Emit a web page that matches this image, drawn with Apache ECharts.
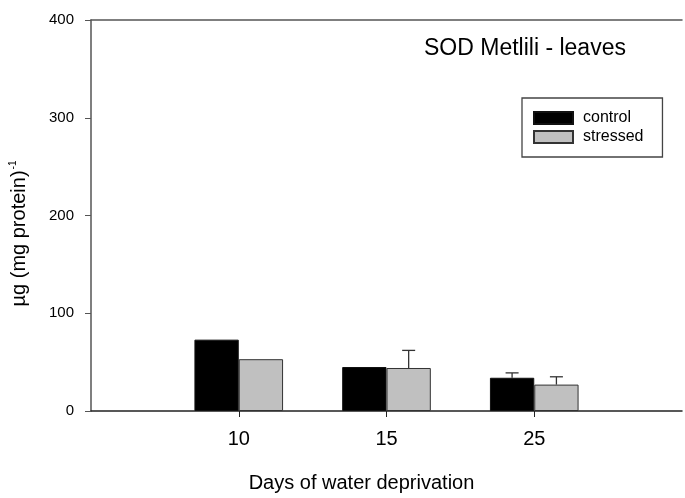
<!DOCTYPE html>
<html>
<head>
<meta charset="utf-8">
<script src="https://cdn.jsdelivr.net/npm/echarts@6/dist/echarts.min.js"></script>
<style>
html,body{margin:0;padding:0;background:#fff;}
#c{width:685px;height:498px;}
</style>
</head>
<body>
<div id="c"></div>
<script>
const categories = ['', '10', '15', '25', ''];
const controlValues = [null, 73, 45, 34, null];
const stressedValues = [null, 53, 44, 27, null];
const controlErrors = [null, null, null, 5, null];
const stressedErrors = [null, null, 18, 8, null];
const yTicks = [0, 100, 200, 300, 400];

const FONT = '"Liberation Sans", Arial, sans-serif';
const chart = echarts.init(document.getElementById('c'));

function errorSeries(name, values, errors, side) {
  const data = values.map((v, i) => [i, v, errors[i]]);
  return {
    type: 'custom',
    name: name + ' err',
    silent: true,
    z: 1,
    data: data,
    renderItem: function (params, api) {
      const i = api.value(0), v = api.value(1), e = api.value(2);
      if (!(e > 0) || v == null || isNaN(v)) return;
      const band = api.size([1, 0])[0];
      const off = side * band * 0.15;
      const p0 = api.coord([i, v]);
      const p1 = api.coord([i, v + e]);
      const x = p0[0] + off;
      const half = 6.5;
      const st = { stroke: '#333', lineWidth: 1.3 };
      return {
        type: 'group',
        children: [
          { type: 'line', shape: { x1: x, y1: p0[1], x2: x, y2: p1[1] }, style: st },
          { type: 'line', shape: { x1: x - half, y1: p1[1], x2: x + half, y2: p1[1] }, style: st }
        ]
      };
    }
  };
}

chart.setOption({
  animation: false,
  backgroundColor: '#fff',
  textStyle: { fontFamily: FONT },
  title: {
    text: 'SOD Metlili - leaves',
    left: 424, top: 37, padding: 0,
    textStyle: { fontFamily: FONT, fontSize: 23, fontWeight: 'normal', color: '#000', lineHeight: 23 }
  },
  legend: {
    orient: 'vertical',
    left: 522, top: 98,
    padding: [12, 19, 12, 11],
    itemWidth: 39, itemHeight: 12, itemGap: 3,
    borderColor: '#444', borderWidth: 1.3,
    icon: 'rect',
    textStyle: { fontFamily: FONT, fontSize: 16, color: '#000', padding: [0, 0, 0, 5], lineHeight: 16 },
    data: ['control', 'stressed']
  },
  grid: { left: 90, right: 0, top: 20, bottom: 78, containLabel: false },
  xAxis: [{
    type: 'category',
    data: categories,
    boundaryGap: false,
    name: 'Days of water deprivation',
    nameLocation: 'middle',
    nameGap: 62,
    nameTextStyle: { fontFamily: FONT, fontSize: 20, color: '#000', padding: [0, 50, 0, 0] },
    axisLine: { lineStyle: { color: '#222', width: 1.5 } },
    axisTick: { show: true, length: 6, inside: false, interval: function (i) { return i > 0 && i < 4; }, lineStyle: { color: '#222' } },
    axisLabel: { fontFamily: FONT, fontSize: 20, color: '#000', margin: 18, interval: 0 },
    splitLine: { show: false }
  }, {
    type: 'category',
    data: categories,
    boundaryGap: false,
    position: 'top',
    axisLine: { lineStyle: { color: '#555', width: 1.5 } },
    axisTick: { show: false },
    axisLabel: { show: false },
    splitLine: { show: false }
  }],
  yAxis: {
    type: 'value',
    min: yTicks[0], max: yTicks[yTicks.length - 1], interval: 100,
    name: 'µg (mg protein){sup|-1}',
    nameLocation: 'middle',
    nameGap: 61,
    nameTextStyle: {
      fontFamily: FONT, fontSize: 20, color: '#000', padding: [0, 36, 0, 0],
      rich: { sup: { fontFamily: FONT, fontSize: 10, color: '#000', verticalAlign: 'top', lineHeight: 22, padding: [0, 0, 10, 1] } }
    },
    axisLine: { show: true, lineStyle: { color: '#555', width: 1.5 } },
    axisTick: { show: true, length: 6, lineStyle: { color: '#555' } },
    axisLabel: { fontFamily: FONT, fontSize: 15, color: '#000', margin: 17 },
    splitLine: { show: false }
  },
  series: [
    {
      name: 'control', type: 'bar', data: controlValues,
      barWidth: '30%', barGap: '0%', z: 2,
      itemStyle: { color: '#000', borderColor: '#111', borderWidth: 1 }
    },
    {
      name: 'stressed', type: 'bar', data: stressedValues,
      barWidth: '30%', barGap: '0%', z: 2,
      itemStyle: { color: '#c0c0c0', borderColor: '#333', borderWidth: 1 }
    },
    errorSeries('control', controlValues, controlErrors, -1),
    errorSeries('stressed', stressedValues, stressedErrors, 1)
  ]
});
</script>
</body>
</html>
